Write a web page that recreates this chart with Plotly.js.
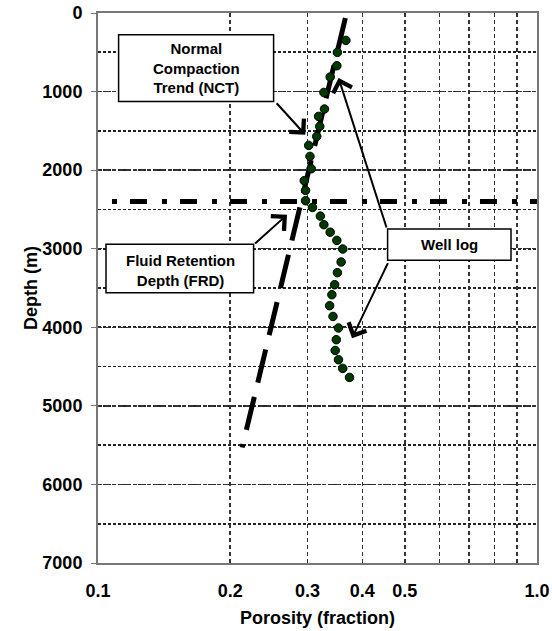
<!DOCTYPE html>
<html>
<head>
<meta charset="utf-8">
<script src="https://cdn.plot.ly/plotly-3.0.1.min.js"></script>
<style>html,body{margin:0;padding:0;background:#fff;}#chart{width:552px;height:631px;}</style>
</head>
<body>
<div id="chart"></div>
<script>
// Well log porosity (fraction) vs depth (m)
const wellPorosity = [0.367,0.351,0.350,0.338,0.327,0.328,0.318,0.320,0.315,0.302,0.304,0.306,0.295,0.297,0.297,0.308,0.321,0.327,0.338,0.350,0.361,0.358,0.351,0.346,0.341,0.337,0.343,0.353,0.349,0.347,0.353,0.361,0.374];
const wellDepth    = [349,501,671,815,1011,1222,1316,1443,1571,1685,1825,1982,2134,2258,2389,2475,2585,2694,2790,2894,3004,3169,3305,3458,3585,3725,3862,4009,4158,4295,4413,4523,4638];
// Normal compaction trend end points
const nctPorosity = [0.366, 0.213];
const nctDepth    = [64, 5530];
// Fluid retention depth line
const frdPorosity = [0.1076, 1.0];
const frdDepth    = [2400, 2400];
// Axis ticks
const xTickVals = [0.1,0.2,0.3,0.4,0.5,0.6,0.7,0.8,0.9,1.0];
const xTickText = ['0.1','0.2','0.3','0.4','0.5','','','','','1.0'];
const yTickVals = [0,1000,2000,3000,4000,5000,6000,7000];
const yTickText = ['0','1000','2000','3000','4000','5000','6000','7000'];

const FONT = 'Liberation Sans, Arial, Helvetica, sans-serif';

const traces = [
  {x: frdPorosity, y: frdDepth, type:'scatter', mode:'lines',
   line:{color:'#000', width:5, dash:'5px,13px,17px,15px'}, hoverinfo:'skip'},
  {x: nctPorosity, y: nctDepth, type:'scatter', mode:'lines',
   line:{color:'#000', width:5, dash:'34px,14.7px'}, hoverinfo:'skip'},
  {x: wellPorosity, y: wellDepth, type:'scatter', mode:'markers',
   marker:{size:8.5, color:'#003a00', line:{color:'#000', width:1}}}
];

function px(x){return (x-97.7)/439;}
function py(y){return 1-(y-13.3)/549.7;}

const boxes = [
  [118.3,35,273.3,101.7],
  [105.7,244.3,253.3,293],
  [387.3,229.3,510.7,260.3]
].map(b=>({type:'rect', xref:'paper', yref:'paper', x0:px(b[0]), x1:px(b[2]), y0:py(b[1]), y1:py(b[3]),
  line:{color:'#000', width:1.5}, fillcolor:'#fff', layer:'above'}));

const txtFont = {family:FONT, size:15, color:'#000', weight:700};
const annotations = [
  {xref:'paper', yref:'paper', x:px(195.8), y:py(68.3), xanchor:'center', yanchor:'middle', align:'center', text:'Normal<br>Compaction<br>Trend (NCT)', showarrow:false, font:txtFont},
  {xref:'paper', yref:'paper', x:px(180), y:py(271), xanchor:'center', yanchor:'middle', align:'center', text:'Fluid Retention<br>Depth (FRD)', showarrow:false, font:txtFont},
  {xref:'paper', yref:'paper', x:px(449), y:py(244.8), xanchor:'center', yanchor:'middle', align:'center', text:'Well log', showarrow:false, font:txtFont}
];
const arrows = [
  [275,102,305,135],
  [253.3,245,286.7,215],
  [386.7,229.3,338.3,78.3],
  [388.3,261.7,351.7,338.3]
];
arrows.forEach(a=>annotations.push({xref:'paper', yref:'paper', x:px(a[2]), y:py(a[3]), ax:a[0]-a[2], ay:a[1]-a[3],
  text:'', showarrow:true, arrowhead:4, arrowsize:1.9, arrowwidth:2, arrowcolor:'#000', standoff:0}));

const tickFont = {family:FONT, size:18, color:'#000', weight:700};
const layout = {
  width:552, height:631,
  margin:{l:98, r:15, t:13, b:68},
  paper_bgcolor:'#fff', plot_bgcolor:'#fff',
  showlegend:false,
  xaxis:{type:'log', range:[-1,0], tickmode:'array', tickvals:xTickVals, ticktext:xTickText,
    showgrid:true, gridcolor:'#333', gridwidth:1.5, griddash:'4px,3px',
    showline:true, linecolor:'#777', linewidth:2, mirror:true, ticks:'', ticklabelstandoff:10,
    zeroline:false, tickfont:tickFont,
    title:{text:'Porosity (fraction)', font:tickFont, standoff:12}},
  yaxis:{range:[7000,0], tickmode:'array', tickvals:yTickVals, ticktext:yTickText,
    showgrid:true, gridcolor:'#333', gridwidth:1.5, griddash:'4px,3px',
    minor:{dtick:500, tick0:0, showgrid:true, gridcolor:'#222', gridwidth:1.8, griddash:'3px,2px'},
    showline:true, linecolor:'#777', linewidth:2, mirror:true, ticks:'outside', ticklen:5, tickcolor:'#777', tickwidth:1,
    ticklabelstandoff:5,
    zeroline:false, tickfont:tickFont,
    title:{text:'Depth (m)', font:tickFont, standoff:0}},
  shapes: boxes,
  annotations: annotations
};
Plotly.newPlot('chart', traces, layout, {displayModeBar:false, staticPlot:true});
</script>
</body>
</html>
